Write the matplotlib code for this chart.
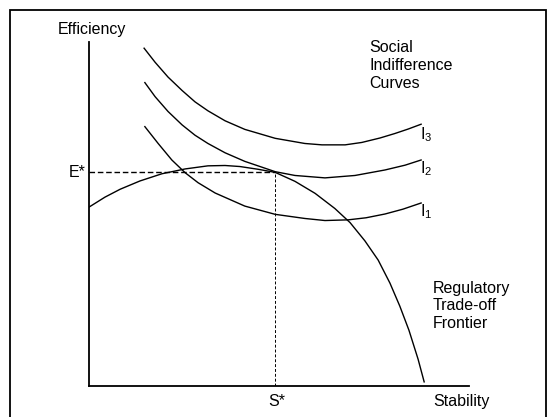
import matplotlib
matplotlib.use("Agg")
import matplotlib.pyplot as plt
from matplotlib.patches import Rectangle

plt.rcParams['font.family'] = ['Liberation Sans', 'DejaVu Sans']
plt.rcParams['mathtext.fontset'] = 'custom'
plt.rcParams['mathtext.rm'] = 'Liberation Sans'

# ---- data ----
frontier_x = [0, 0.42, 0.82, 1.34, 1.92, 2.53, 3.13, 3.58, 3.97, 4.45, 4.9, 5.42, 5.95,
              6.47, 6.87, 7.26, 7.61, 7.92, 8.18, 8.42, 8.66, 8.82]
frontier_y = [5.2, 5.49, 5.72, 5.96, 6.17, 6.31, 6.4, 6.41, 6.38, 6.3, 6.21, 5.95, 5.6,
              5.16, 4.75, 4.22, 3.66, 2.99, 2.32, 1.62, 0.78, 0.12]

i3_x = [1.45, 1.74, 2.08, 2.45, 2.79, 3.13, 3.58, 4.1, 4.9, 5.68, 6.13, 6.74, 7.18, 7.66, 8.05, 8.4, 8.74]
i3_y = [9.82, 9.41, 8.98, 8.59, 8.26, 8.0, 7.71, 7.46, 7.2, 7.05, 7.01, 7.01, 7.08, 7.21, 7.34, 7.47, 7.61]

i2_x = [1.47, 1.74, 2.08, 2.45, 2.79, 3.13, 3.58, 4.1, 4.9, 5.42, 6.21, 7.0, 7.79, 8.32, 8.74]
i2_y = [8.82, 8.41, 7.98, 7.59, 7.29, 7.05, 6.78, 6.53, 6.23, 6.12, 6.05, 6.12, 6.28, 6.42, 6.57]

i1_x = [1.47, 1.82, 2.18, 2.53, 2.87, 3.32, 4.1, 4.9, 5.68, 6.21, 6.82, 7.29, 7.79, 8.26, 8.74]
i1_y = [7.54, 7.05, 6.57, 6.2, 5.91, 5.61, 5.23, 4.99, 4.87, 4.81, 4.83, 4.89, 5.0, 5.14, 5.32]

s_star = 4.9
e_star = 6.22

curve_labels = ['I$_\\mathregular{1}$', 'I$_\\mathregular{2}$', 'I$_\\mathregular{3}$']
label_y = [5.06, 6.31, 7.3]

# ---- figure ----
W, H = 552, 417
fig = plt.figure(figsize=(W / 100, H / 100), dpi=100)
ax = fig.add_axes([89 / W, (H - 386) / H, (469 - 89) / W, (386 - 42) / H])
ax.set_xlim(0, 10)
ax.set_ylim(0, 10)
for s in ['top', 'right']:
    ax.spines[s].set_visible(False)
for s in ['left', 'bottom']:
    ax.spines[s].set_linewidth(1.3)
ax.set_xticks([])
ax.set_yticks([])

lw = 1.0
ax.plot(frontier_x, frontier_y, color='black', lw=lw, solid_joinstyle='round')
for xx, yy in ((i1_x, i1_y), (i2_x, i2_y), (i3_x, i3_y)):
    ax.plot(xx, yy, color='black', lw=lw, solid_joinstyle='round')

ax.plot([0, s_star], [e_star, e_star], color='black', lw=1.0, dashes=(4, 2))
ax.plot([s_star, s_star], [0, e_star], color='black', lw=0.7, dashes=(3, 2))

fs = 11.5
for lab, ly in zip(curve_labels, label_y):
    ax.text(8.71, ly, lab, fontsize=fs, ha='left', va='center')

ax.text(-0.82, 10.35, 'Efficiency', fontsize=fs, ha='left', va='center', clip_on=False)
ax.text(7.37, 10.05, 'Social\nIndifference\nCurves', fontsize=fs, ha='left', va='top',
        linespacing=1.22, clip_on=False)
ax.text(9.05, 3.06, 'Regulatory\nTrade-off\nFrontier', fontsize=fs, ha='left', va='top',
        linespacing=1.22, clip_on=False)
ax.text(9.05, -0.44, 'Stability', fontsize=fs, ha='left', va='center', clip_on=False)
ax.text(s_star + 0.05, -0.44, 'S*', fontsize=fs, ha='center', va='center', clip_on=False)
ax.text(-0.1, e_star, 'E*', fontsize=fs, ha='right', va='center', clip_on=False)

fig.patches.append(Rectangle((10 / W, -0.05), (546 - 10) / W, (H - 10) / H + 0.05,
                             transform=fig.transFigure, fill=False, edgecolor='black',
                             lw=1.3, clip_on=False))

fig.savefig('out.png', dpi=100)
